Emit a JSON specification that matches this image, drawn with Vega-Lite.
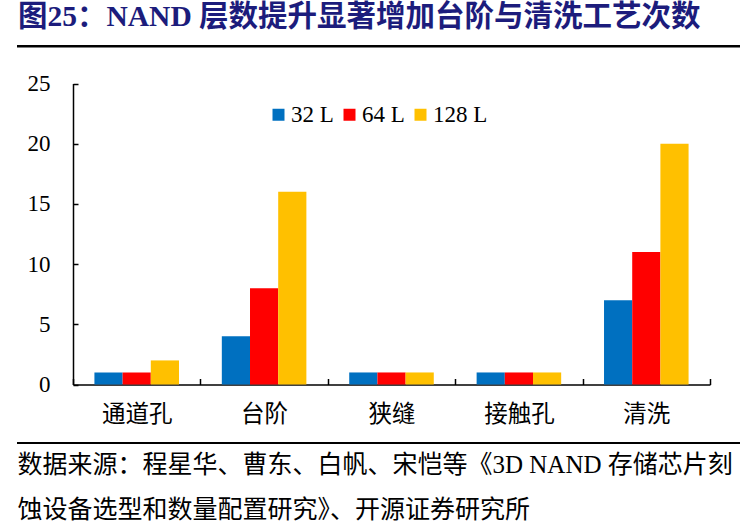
{
  "$schema": "https://vega.github.io/schema/vega-lite/v6.json",
  "width": 723,
  "height": 399,
  "autosize": "none",
  "padding": {"left": 17, "top": 44, "right": 13, "bottom": 88},
  "background": "white",
  "view": {"stroke": null},
  "title": {
    "text": "图25：NAND 层数提升显著增加台阶与清洗工艺次数",
    "anchor": "start",
    "frame": "group",
    "offset": 12,
    "dx": 1,
    "font": "Liberation Serif, Noto Sans CJK SC",
    "fontSize": 29.5,
    "fontWeight": "bold",
    "color": "#1c1c7c"
  },
  "data": {
    "values": [
      {"step": "通道孔", "layers": "32 L", "count": 1},
      {"step": "通道孔", "layers": "64 L", "count": 1},
      {"step": "通道孔", "layers": "128 L", "count": 2},
      {"step": "台阶", "layers": "32 L", "count": 4},
      {"step": "台阶", "layers": "64 L", "count": 8},
      {"step": "台阶", "layers": "128 L", "count": 16},
      {"step": "狭缝", "layers": "32 L", "count": 1},
      {"step": "狭缝", "layers": "64 L", "count": 1},
      {"step": "狭缝", "layers": "128 L", "count": 1},
      {"step": "接触孔", "layers": "32 L", "count": 1},
      {"step": "接触孔", "layers": "64 L", "count": 1},
      {"step": "接触孔", "layers": "128 L", "count": 1},
      {"step": "清洗", "layers": "32 L", "count": 7},
      {"step": "清洗", "layers": "64 L", "count": 11},
      {"step": "清洗", "layers": "128 L", "count": 20}
    ]
  },
  "layer": [
    {
      "data": {"values": [{"edge": "top"}]},
      "mark": {"type": "rule", "color": "black", "strokeWidth": 2.5},
      "encoding": {
        "y": {"datum": 28.1, "type": "quantitative"}
      }
    },
    {
      "data": {"values": [{"edge": "bottom"}]},
      "mark": {"type": "rule", "color": "black", "strokeWidth": 2},
      "encoding": {
        "y": {"datum": -4.86, "type": "quantitative"}
      }
    },
    {
      "mark": {"type": "bar"},
      "encoding": {
        "x": {
          "field": "step",
          "type": "nominal",
          "sort": null,
          "scale": {"range": [56, 693], "paddingInner": 0, "paddingOuter": 0},
          "axis": {
            "title": ["数据来源：程星华、曹东、白帆、宋恺等《3D NAND 存储芯片刻", "蚀设备选型和数量配置研究》、开源证券研究所"],
            "titleAnchor": "start",
            "titleAlign": "left",
            "titleBaseline": "top",
            "titleX": 0,
            "titleY": 68,
            "titleLineHeight": 45,
            "titleFont": "Liberation Serif, Noto Sans CJK SC",
            "titleFontSize": 25,
            "titleFontWeight": "normal",
            "titleColor": "black",
            "offset": -58.5,
            "labelAngle": 0,
            "labelFont": "Liberation Serif, Noto Sans CJK SC",
            "labelFontSize": 23.5,
            "labelColor": "black",
            "labelPadding": 24,
            "tickBand": "extent",
            "tickSize": -6,
            "tickColor": "black",
            "tickWidth": 1.5,
            "domainColor": "black",
            "domainWidth": 1.5,
            "grid": false
          }
        },
        "xOffset": {
          "field": "layers",
          "type": "nominal",
          "sort": ["32 L", "64 L", "128 L"],
          "scale": {"paddingOuter": 0.76, "paddingInner": 0}
        },
        "y": {
          "field": "count",
          "type": "quantitative",
          "scale": {"domain": [0, 25], "range": [340.5, 39.5], "nice": false},
          "axis": {
            "title": null,
            "values": [0, 5, 10, 15, 20, 25],
            "offset": -56,
            "labelFont": "Liberation Serif",
            "labelFontSize": 23,
            "labelColor": "black",
            "labelPadding": 28,
            "tickSize": -5,
            "tickColor": "black",
            "tickWidth": 1.5,
            "domainColor": "black",
            "domainWidth": 1.5,
            "grid": false
          }
        },
        "color": {
          "field": "layers",
          "type": "nominal",
          "sort": ["32 L", "64 L", "128 L"],
          "scale": {"domain": ["32 L", "64 L", "128 L"], "range": ["#0070C0", "#FF0000", "#FFC000"]},
          "legend": {
            "title": null,
            "orient": "none",
            "direction": "horizontal",
            "legendX": 250,
            "legendY": 59,
            "symbolType": "square",
            "symbolSize": 144,
            "symbolStrokeWidth": 0,
            "labelFont": "Liberation Serif",
            "labelFontSize": 23,
            "labelColor": "black",
            "labelOffset": 1,
            "columnPadding": 4
          }
        }
      }
    }
  ]
}
